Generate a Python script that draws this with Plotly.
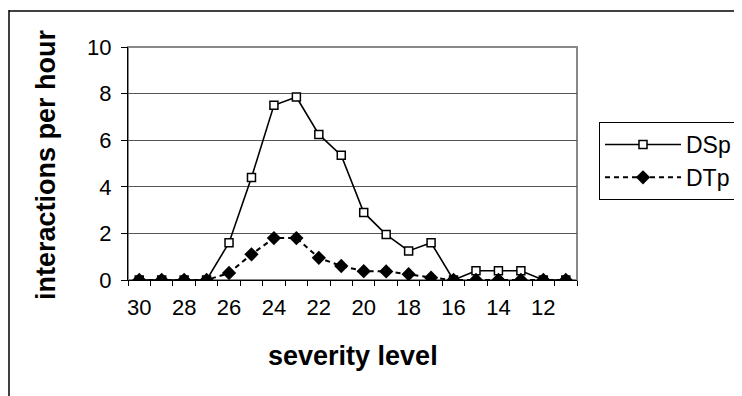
import plotly.graph_objects as go

severity = list(range(30, 10, -1))
dsp = [0, 0, 0, 0, 1.6, 4.4, 7.5, 7.85, 6.25, 5.35, 2.9, 1.95, 1.25, 1.6, 0, 0.4, 0.4, 0.4, 0, 0]
dtp = [0, 0, 0, 0, 0.3, 1.1, 1.8, 1.8, 0.95, 0.6, 0.38, 0.37, 0.25, 0.1, 0, 0, 0, 0, 0, 0]
x_ticks = [30, 28, 26, 24, 22, 20, 18, 16, 14, 12]
y_ticks = [0, 2, 4, 6, 8, 10]

FONT = "Liberation Sans, Arial, sans-serif"

fig = go.Figure()
fig.add_trace(go.Scatter(
    x=severity, y=dsp, name="DSp", mode="lines+markers",
    line=dict(color="black", width=1.6),
    marker=dict(symbol="square", size=8, color="white", line=dict(color="black", width=1.5)),
))
fig.add_trace(go.Scatter(
    x=severity, y=dtp, name="DTp", mode="lines+markers",
    line=dict(color="black", width=2, dash="5px,4px"),
    marker=dict(symbol="diamond", size=11, color="black"),
))

# page offset from the browser's default body margin
OFF = 8
W, H = 742, 396
# plot area in page pixels
PL, PR, PT, PB = 128, 577, 47, 280
L, T = PL - OFF, PT - OFF
R, B = W - (PR - OFF), H - (PB - OFF)
pw, ph = PR - PL, PB - PT

def px(xp):
    return (xp - PL) / pw

def py(yp):
    return (PB - yp) / ph

fig.update_layout(
    width=W, height=H,
    margin=dict(l=L, r=R, t=T, b=B, autoexpand=False),
    paper_bgcolor="white", plot_bgcolor="white",
    font=dict(family=FONT, size=22, color="black"),
    showlegend=True,
    legend=dict(
        x=px(599), y=py(122), xanchor="left", yanchor="top",
        bordercolor="black", borderwidth=1, bgcolor="white",
        font=dict(size=23), itemwidth=76, tracegroupgap=0,
    ),
    xaxis=dict(
        range=[30.5, 10.5], tickmode="array", tickvals=x_ticks,
        ticks="", showgrid=False, showline=True, linecolor="black", linewidth=1,
        zeroline=False, automargin=False,
        minor=dict(tickmode="linear", tick0=0.5, dtick=1, ticks="outside",
                   ticklen=5, tickcolor="black", showgrid=False),
        tickfont=dict(size=22), ticklabelstandoff=8,
    ),
    yaxis=dict(
        range=[0, 10], tickmode="array", tickvals=y_ticks,
        ticks="outside", ticklen=6, tickcolor="black",
        showgrid=True, gridcolor="#555555", gridwidth=1,
        showline=True, linecolor="black", linewidth=1, zeroline=False,
        automargin=False,
        tickfont=dict(size=22), ticklabelstandoff=5,
    ),
    annotations=[
        dict(text="<b>severity level</b>", xref="paper", yref="paper",
             x=0.5, y=py(356), xanchor="center", yanchor="middle",
             showarrow=False, font=dict(size=27)),
        dict(text="<b>interactions per hour</b>", xref="paper", yref="paper",
             x=px(46), y=py(165), xanchor="center", yanchor="middle",
             textangle=-90, showarrow=False, font=dict(size=27)),
    ],
    shapes=[
        dict(type="rect", xref="paper", yref="paper", x0=0, x1=1, y0=0, y1=1,
             line=dict(color="#888888", width=2), layer="below"),
        dict(type="line", xref="paper", yref="paper", x0=px(9), x1=px(9),
             y0=py(440), y1=py(10), line=dict(color="black", width=1.5)),
        dict(type="line", xref="paper", yref="paper", x0=px(9), x1=px(780),
             y0=py(11), y1=py(11), line=dict(color="black", width=1.5)),
    ],
)

fig.write_html("out.html")
